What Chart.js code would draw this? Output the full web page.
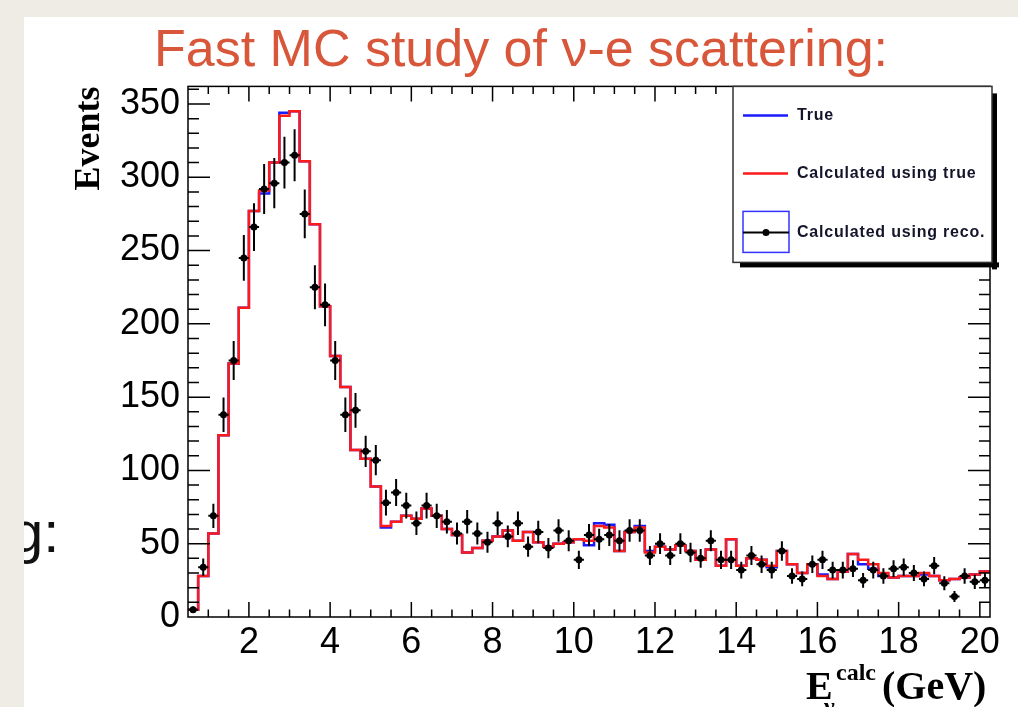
<!DOCTYPE html>
<html>
<head>
<meta charset="utf-8">
<script src="https://cdn.jsdelivr.net/npm/chart.js@4.4.1/dist/chart.umd.min.js"></script>
<style>
body { margin: 0; background: #efebe5; width: 1018px; height: 707px; overflow: hidden; }
#slide { position: absolute; left: 24px; top: 17px; width: 994px; height: 690px; background: #fff; overflow: hidden; }
#frag { position: absolute; left: -13px; top: 486px; font: 58px/1 "Liberation Sans", Arial, sans-serif; color: #111; }
canvas { position: absolute; left: 0; top: 0; }
</style>
</head>
<body>
<div id="slide">
  <div id="frag">g:</div>
  <canvas id="c" width="994" height="690"></canvas>
</div>
<script>
// binning of the histograms (GeV)
var xMin = 0.5, xMax = 20.25, binWidth = 0.25;
var yMax = 362;
var xTickVals = [2, 4, 6, 8, 10, 12, 14, 16, 18, 20];
var yTickVals = [0, 50, 100, 150, 200, 250, 300, 350];

// "True" (blue)
var trueVals = [5, 28, 57, 124, 173, 211, 277, 289, 310, 344,
  345, 311, 268, 212, 178, 157, 114, 108, 89, 61,
  65, 69, 67, 74, 69, 60, 56, 44, 47, 52,
  55, 59, 52, 58, 51, 48, 50, 51, 53, 49,
  64, 63, 45, 58, 62, 45, 48, 46, 49, 45,
  39, 46, 35, 53, 35, 40, 39, 34, 45, 36,
  30, 36, 29, 26, 31, 43, 36, 33, 28, 27,
  28, 28, 29, 28, 25, 26, 27, 29, 31];
// "Calculated using true" (red)
var calcTrueVals = [5, 28, 57, 124, 173, 211, 277, 291, 310, 342,
  345, 311, 268, 212, 178, 157, 114, 108, 89, 62,
  65, 69, 67, 74, 69, 60, 56, 44, 47, 52,
  55, 59, 52, 58, 51, 48, 50, 51, 53, 52,
  62, 61, 45, 58, 61, 44, 48, 46, 49, 45,
  39, 46, 35, 53, 35, 40, 39, 35, 45, 36,
  30, 36, 28, 26, 31, 43, 39, 36, 30, 27,
  28, 28, 30, 28, 25, 26, 27, 29, 31];
// "Calculated using reco." (black points)
var recoVals = [5, 34, 69, 138, 175, 245, 266, 292, 296, 310,
  315, 275, 225, 213, 175, 138, 141, 113, 107, 78,
  85, 76, 64, 76, 69, 65, 57, 65, 57, 51,
  64, 55, 64, 48, 58, 47, 59, 52, 39, 56,
  53, 56, 52, 59, 59, 42, 50, 42, 50, 44,
  40, 52, 39, 39, 32, 42, 36, 32, 45, 28,
  26, 36, 39, 32, 32, 33, 25, 32, 28, 33,
  34, 30, 26, 35, 23, 14, 28, 24, 25];

var binEdges = [];
for (var i = 0; i <= trueVals.length; i++) binEdges.push(xMin + i * binWidth);

function stepData(vals) {
  return binEdges.map(function (e, i) {
    return { x: e, y: vals[Math.min(i, vals.length - 1)] };
  });
}
var recoPoints = recoVals.map(function (v, i) {
  return { x: binEdges[i] + binWidth / 2, y: v };
});

// poisson error bars under the reco points
var errorBars = {
  id: 'errorBars',
  beforeDatasetDraw: function (chart, args) {
    if (args.index !== 0) return;
    var ctx = chart.ctx, xs = chart.scales.x, ys = chart.scales.y, a = chart.chartArea;
    ctx.save();
    ctx.beginPath();
    ctx.rect(a.left, a.top, a.width, a.height);
    ctx.clip();
    ctx.strokeStyle = '#000';
    ctx.lineWidth = 2;
    ctx.beginPath();
    recoVals.forEach(function (v, i) {
      var e = Math.sqrt(v);
      var cx = xs.getPixelForValue(recoPoints[i].x);
      var cy = ys.getPixelForValue(v);
      ctx.moveTo(cx, ys.getPixelForValue(v - e));
      ctx.lineTo(cx, ys.getPixelForValue(v + e));
      ctx.moveTo(xs.getPixelForValue(binEdges[i]), cy);
      ctx.lineTo(xs.getPixelForValue(binEdges[i + 1]), cy);
    });
    ctx.stroke();
    ctx.restore();
  }
};

// ROOT style frame, inner ticks, legend box and x axis title
var rootFrame = {
  id: 'rootFrame',
  afterDraw: function (chart) {
    var ctx = chart.ctx, a = chart.chartArea, xs = chart.scales.x, ys = chart.scales.y;
    ctx.save();
    ctx.strokeStyle = '#000';
    ctx.lineWidth = 1.5;
    ctx.strokeRect(a.left, a.top, a.width, a.height);
    ctx.beginPath();
    for (var v = 1; v <= 20; v += 0.5) {
      var px = xs.getPixelForValue(v);
      var len = (v % 2 === 0) ? 15 : 7.5;
      ctx.moveTo(px, a.bottom); ctx.lineTo(px, a.bottom - len);
      ctx.moveTo(px, a.top); ctx.lineTo(px, a.top + len);
    }
    for (var w = 10; w <= 360; w += 10) {
      var py = ys.getPixelForValue(w);
      var l2 = (w % 50 === 0) ? 22 : 11;
      ctx.moveTo(a.left, py); ctx.lineTo(a.left + l2, py);
      ctx.moveTo(a.right, py); ctx.lineTo(a.right - l2, py);
    }
    ctx.stroke();

    // legend
    var lx = a.right - 257, ly = a.top, lw = 259, lh = 176;
    ctx.fillStyle = '#000';
    ctx.fillRect(lx + 7, ly + lh, lw, 5);
    ctx.fillRect(lx + lw, ly + 7, 5, lh);
    ctx.fillStyle = '#fff';
    ctx.fillRect(lx, ly, lw, lh);
    ctx.strokeStyle = '#333';
    ctx.lineWidth = 1.5;
    ctx.strokeRect(lx, ly, lw, lh);

    var sx0 = lx + 10, sx1 = lx + 55, tx = lx + 64;
    var rows = [ly + 29, ly + 87, ly + 146];
    ctx.lineWidth = 2.5;
    ctx.strokeStyle = '#1a1aff';
    ctx.beginPath(); ctx.moveTo(sx0, rows[0]); ctx.lineTo(sx1, rows[0]); ctx.stroke();
    ctx.strokeStyle = '#ff1a1a';
    ctx.beginPath(); ctx.moveTo(sx0, rows[1]); ctx.lineTo(sx1, rows[1]); ctx.stroke();
    ctx.strokeStyle = '#3333ff';
    ctx.lineWidth = 1.5;
    ctx.strokeRect(sx0, rows[2] - 21, 46, 41);
    ctx.strokeStyle = '#000';
    ctx.lineWidth = 2;
    ctx.beginPath(); ctx.moveTo(sx0, rows[2]); ctx.lineTo(sx0 + 46, rows[2]); ctx.stroke();
    ctx.fillStyle = '#000';
    ctx.beginPath(); ctx.arc(sx0 + 23, rows[2], 3.5, 0, Math.PI * 2); ctx.fill();

    ctx.fillStyle = '#14142b';
    ctx.font = 'bold 16px "Liberation Sans", Arial, sans-serif';
    ctx.letterSpacing = '0.8px';
    ctx.textBaseline = 'middle';
    ctx.fillText('True', tx, rows[0]);
    ctx.fillText('Calculated using true', tx, rows[1]);
    ctx.fillText('Calculated using reco.', tx, rows[2]);

    // x axis title E_nu^calc (GeV)
    ctx.letterSpacing = '0px';
    ctx.fillStyle = '#000';
    ctx.textBaseline = 'alphabetic';
    var bx = a.right - 184, by = a.bottom + 82;
    ctx.font = 'bold 40px "Liberation Serif", serif';
    ctx.fillText('E', bx, by);
    ctx.fillText('(GeV)', bx + 76, by);
    ctx.font = 'bold 24px "Liberation Serif", serif';
    ctx.fillText('calc', bx + 30, by - 19);
    ctx.fillText('ν', bx + 18, by + 15);
    ctx.restore();
  }
};

var tickFont = { family: "'Liberation Sans', Arial, sans-serif", size: 36 };

new Chart(document.getElementById('c'), {
  type: 'line',
  data: {
    datasets: [
      {
        label: 'Calculated using reco.',
        type: 'scatter',
        data: recoPoints,
        showLine: false,
        pointRadius: 3.5,
        pointBackgroundColor: '#000',
        pointBorderWidth: 0,
        order: 0
      },
      {
        label: 'Calculated using true',
        data: stepData(calcTrueVals),
        stepped: true,
        borderColor: '#ff1a1a',
        borderWidth: 2.5,
        pointRadius: 0,
        fill: false,
        order: 1
      },
      {
        label: 'True',
        data: stepData(trueVals),
        stepped: true,
        borderColor: '#1a1aff',
        borderWidth: 2.5,
        pointRadius: 0,
        fill: false,
        order: 2
      }
    ]
  },
  options: {
    responsive: false,
    animation: false,
    devicePixelRatio: 1,
    layout: { padding: { left: 28, right: 28, top: 0, bottom: 0 } },
    plugins: {
      legend: { display: false },
      tooltip: { enabled: false },
      title: {
        display: true,
        text: 'Fast MC study of ν-e scattering:',
        color: '#d8573a',
        font: { family: "'Liberation Sans', Arial, sans-serif", size: 52, weight: 'normal', lineHeight: 1.2 },
        padding: { top: 3, bottom: 4 }
      }
    },
    scales: {
      x: {
        type: 'linear',
        min: xMin,
        max: xMax,
        afterBuildTicks: function (s) { s.ticks = xTickVals.map(function (v) { return { value: v }; }); },
        afterFit: function (s) { s.height = 90; },
        grid: { display: false, drawTicks: false },
        border: { display: false },
        ticks: { padding: 4, color: '#000', font: tickFont, maxRotation: 0, autoSkip: false }
      },
      y: {
        min: 0,
        max: yMax,
        afterBuildTicks: function (s) { s.ticks = yTickVals.map(function (v) { return { value: v }; }); },
        afterFit: function (s) { s.width = 136; },
        grid: { display: false, drawTicks: false },
        border: { display: false },
        ticks: { padding: 8, color: '#000', font: tickFont, autoSkip: false },
        title: {
          display: true,
          text: 'Events',
          align: 'end',
          color: '#000',
          font: { family: "'Liberation Serif', serif", size: 36, weight: 'bold' },
          padding: { top: 16, bottom: 0 }
        }
      }
    }
  },
  plugins: [errorBars, rootFrame]
});
</script>
</body>
</html>
